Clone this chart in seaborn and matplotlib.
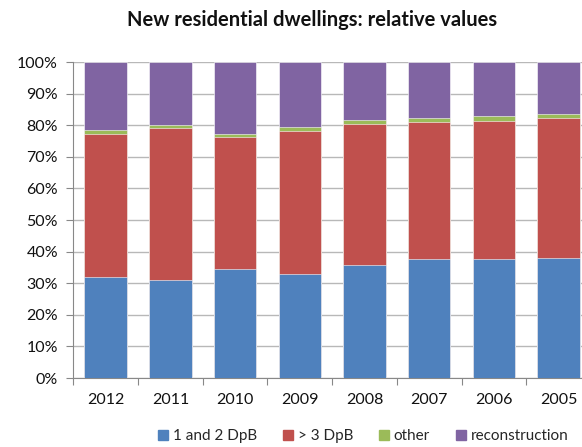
import numpy as np
import pandas as pd
import matplotlib
matplotlib.use("Agg")
import matplotlib.pyplot as plt
import seaborn as sns
from matplotlib.lines import Line2D
from matplotlib.ticker import FixedLocator

years = ["2012", "2011", "2010", "2009", "2008", "2007", "2006", "2005"]
one_two = [32.0, 31.1, 34.5, 32.9, 35.8, 37.7, 37.7, 38.1]
more3 = [45.3, 48.0, 41.8, 45.3, 44.7, 43.3, 43.6, 44.2]
other = [1.2, 0.9, 0.9, 1.2, 1.1, 1.3, 1.6, 1.2]
reconstruction = [21.5, 20.0, 22.8, 20.6, 18.4, 17.7, 17.1, 16.5]

labels = ["1 and 2 DpB", "> 3 DpB", "other", "reconstruction"]
colors = ["#4F81BD", "#C0504D", "#9BBB59", "#8064A2"]

sns.set_theme(style="white")
plt.rcParams["font.family"] = ["Lato", "DejaVu Sans"]

df = pd.DataFrame({"year": years, "a": one_two, "b": more3, "c": other, "d": reconstruction})
df["c1"] = df["a"]
df["c2"] = df["a"] + df["b"]
df["c3"] = df["c2"] + df["c"]
df["c4"] = df["c3"] + df["d"]

fig = plt.figure(figsize=(5.82, 4.47), dpi=100)
ax = fig.add_axes([73.3 / 582, 1 - 378 / 447, (591 - 73.3) / 582, 316 / 447])

for col, color in zip(["c4", "c3", "c2", "c1"], colors[::-1]):
    sns.barplot(data=df, x="year", y=col, color=color, width=0.655, ax=ax,
                saturation=1, edgecolor="white", linewidth=0.4, zorder=3)

ax.set_ylim(0, 100)
ax.set_xlim(-0.5, 7.5)
ax.set_yticks(np.arange(0, 101, 10))
ax.set_yticklabels([f"{v}%" for v in range(0, 101, 10)], fontsize=11.5, color="#111111")
ax.set_xticklabels(years, fontsize=11.5, color="#111111")
ax.set_xlabel("")
ax.set_ylabel("")
ax.xaxis.set_minor_locator(FixedLocator(np.arange(-0.5, 8, 1)))
ax.tick_params(axis="x", which="major", length=0, pad=11)
ax.tick_params(axis="x", which="minor", length=5, color="#888888", width=0.8, direction="out", bottom=True)
ax.tick_params(axis="y", length=5, color="#888888", width=0.8, direction="out", left=True, pad=6)
ax.grid(axis="y", color="#B8B8B8", linewidth=1, zorder=0)
ax.set_axisbelow(True)
for s in ["top", "right"]:
    ax.spines[s].set_visible(False)
ax.spines["left"].set_color("#888888")
ax.spines["bottom"].set_color("#888888")
ax.spines["left"].set_linewidth(0.8)
ax.spines["bottom"].set_linewidth(0.8)

fig.text(312 / 582, 1 - 20 / 447, "New residential dwellings: relative values",
         ha="center", va="center", fontsize=14.5, fontweight="bold", color="#111111")

handles = [Line2D([0], [0], marker="s", linestyle="none", markersize=7,
                  markerfacecolor=c, markeredgecolor=c) for c in colors]
fig.legend(handles, labels, loc="center", bbox_to_anchor=(362 / 582, 1 - 436 / 447),
           ncol=4, frameon=False, fontsize=11, handletextpad=0.15, columnspacing=1.5,
           handlelength=1.0)

fig.savefig("out.png", dpi=100)
